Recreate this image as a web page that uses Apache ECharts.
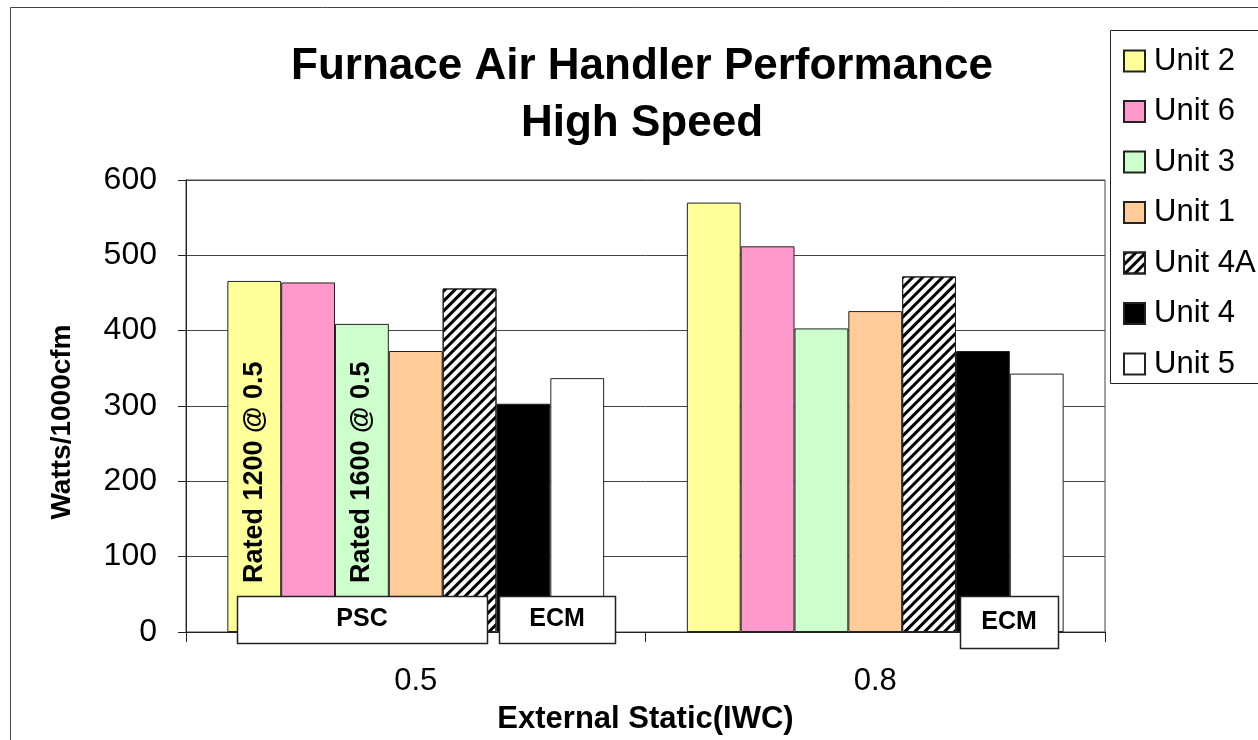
<!DOCTYPE html>
<html>
<head>
<meta charset="utf-8">
<script src="https://cdn.jsdelivr.net/npm/echarts@6/dist/echarts.min.js"></script>
<style>
  html, body { margin: 0; padding: 0; background: #fff; }
  #main { width: 1258px; height: 740px; }
</style>
</head>
<body>
<div id="main"></div>
<script>
// x categories (external static, IWC)
var categories = ['0.5', '0.8'];
var yTicks = [0, 100, 200, 300, 400, 500, 600];

// watts per 1000 cfm
var unitNames = ['Unit 2', 'Unit 6', 'Unit 3', 'Unit 1', 'Unit 4A', 'Unit 4', 'Unit 5'];
var unit2  = [466, 570];
var unit6  = [464, 512];
var unit3  = [409, 403];
var unit1  = [373, 426];
var unit4A = [456, 472];
var unit4  = [303, 373];
var unit5  = [337, 343];

var ratedNotes = { 'Unit 2': 'Rated 1200 @ 0.5', 'Unit 3': 'Rated 1600 @ 0.5' };
var boxNotes = ['PSC', 'ECM', 'ECM'];

var colors = {
  'Unit 2': '#FFFF99',
  'Unit 6': '#FF99CC',
  'Unit 3': '#CCFFCC',
  'Unit 1': '#FFCC99',
  'Unit 4A': '#FFFFFF',
  'Unit 4': '#000000',
  'Unit 5': '#FFFFFF'
};

var allValues = [unit2, unit6, unit3, unit1, unit4A, unit4, unit5];
var font = '"Liberation Sans", Arial, sans-serif';

var chart = echarts.init(document.getElementById('main'));

var series = unitNames.map(function (name, i) {
  var data = allValues[i].map(function (v, j) {
    if (j === 0 && ratedNotes[name]) {
      return {
        value: v,
        label: {
          show: true,
          formatter: ratedNotes[name],
          position: 'insideBottom',
          distance: 49,
          rotate: 90,
          align: 'left',
          verticalAlign: 'middle',
          fontFamily: font,
          fontWeight: 'bold',
          fontSize: 27,
          color: '#000'
        }
      };
    }
    return v;
  });
  var item = {
    color: colors[name],
    borderColor: '#222',
    borderWidth: 1
  };
  if (name === 'Unit 4A') {
    item.decal = {
      symbol: 'rect',
      symbolSize: 1,
      color: '#000',
      dashArrayX: [1, 0],
      dashArrayY: [3, 4],
      rotation: -Math.PI / 4
    };
  }
  return {
    name: name,
    type: 'bar',
    barGap: '0%',
    barCategoryGap: '18%',
    itemStyle: item,
    emphasis: { disabled: true },
    data: data
  };
});

var boxes = [
  { x: 237, y: 596, w: 250, h: 47 },
  { x: 499, y: 596, w: 116, h: 47 },
  { x: 960, y: 596, w: 98, h: 52 }
];

var graphics = [
  { type: 'rect', shape: { x: 10.5, y: 7.5, width: 1400, height: 1000 },
    style: { fill: null, stroke: '#444', lineWidth: 1 }, silent: true, z: 0 },
  { type: 'rect', shape: { x: 1110.5, y: 30.5, width: 200, height: 353 },
    style: { fill: '#fff', stroke: '#222', lineWidth: 1 }, silent: true, z: 1 }
];
boxes.forEach(function (b, i) {
  graphics.push({
    type: 'rect',
    shape: { x: b.x + 0.5, y: b.y + 0.5, width: b.w, height: b.h },
    style: { fill: '#fff', stroke: '#222', lineWidth: 1.5 },
    z: 10
  });
  graphics.push({
    type: 'text',
    x: b.x + b.w / 2,
    y: b.y + b.h / 2,
    style: {
      text: boxNotes[i],
      fontFamily: font,
      fontWeight: 'bold',
      fontSize: 25,
      fill: '#000',
      align: 'center',
      verticalAlign: 'middle'
    },
    z: 11
  });
});

chart.setOption({
  backgroundColor: '#fff',
  animation: false,
  title: {
    text: 'Furnace Air Handler Performance\nHigh Speed',
    left: 637,
    top: 33,
    textAlign: 'center',
    textStyle: {
      fontFamily: font,
      fontWeight: 'bold',
      fontSize: 44,
      lineHeight: 57,
      color: '#000'
    }
  },
  legend: {
    orient: 'vertical',
    left: 1123,
    top: 44,
    padding: 0,
    itemWidth: 21,
    itemHeight: 21,
    itemGap: 16.5,
    icon: 'rect',
    data: unitNames,
    selectedMode: false,
    textStyle: {
      fontFamily: font,
      fontSize: 31,
      lineHeight: 34,
      color: '#000',
      padding: [0, 0, 0, 4]
    },
    z: 5
  },
  grid: {
    left: 186,
    right: 153,
    top: 180,
    bottom: 108,
    outerBoundsMode: 'none',
    containLabel: false,
    show: true,
    borderColor: '#444',
    borderWidth: 1
  },
  xAxis: {
    type: 'category',
    data: categories,
    boundaryGap: true,
    name: 'External Static(IWC)',
    nameLocation: 'middle',
    nameGap: 72,
    nameTextStyle: { fontFamily: font, fontWeight: 'bold', fontSize: 31, color: '#000' },
    axisLine: { lineStyle: { color: '#222', width: 1 } },
    axisTick: { show: true, length: 10, lineStyle: { color: '#222' } },
    axisLabel: { fontFamily: font, fontSize: 31, color: '#000', margin: 34 }
  },
  yAxis: {
    type: 'value',
    min: yTicks[0],
    max: yTicks[yTicks.length - 1],
    interval: 100,
    name: 'Watts/1000cfm',
    nameLocation: 'middle',
    nameGap: 110,
    nameTextStyle: { fontFamily: font, fontWeight: 'bold', fontSize: 28, color: '#000', padding: [0, 32, 0, 0] },
    axisLine: { show: true, lineStyle: { color: '#222', width: 1 } },
    axisTick: { show: true, length: 8, lineStyle: { color: '#222' } },
    axisLabel: { fontFamily: font, fontSize: 32, color: '#000', margin: 29 },
    splitLine: { lineStyle: { color: '#444', width: 1 } }
  },
  graphic: graphics,
  series: series
});
</script>
</body>
</html>
